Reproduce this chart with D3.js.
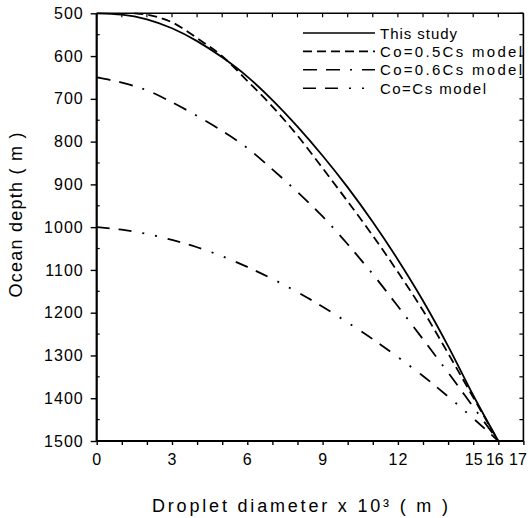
<!DOCTYPE html>
<html>
<head>
<meta charset="utf-8">
<script src="https://cdn.jsdelivr.net/npm/d3@7"></script>
<style>
  body { margin: 0; background: #fff; }
  svg { display: block; font-family: "Liberation Sans", Arial, sans-serif; }
</style>
</head>
<body>
<div id="chart"></div>
<script>
// droplet diameter (x 10^3 m) vs ocean depth (m)
const thisStudy = [
  [0, 500], [1, 503], [2, 514], [3, 535], [4, 565], [5, 603], [6, 648], [7, 703], [8, 765],
  [9, 833], [10, 907], [11, 988], [12, 1076], [13, 1172], [14, 1278], [15, 1393], [16, 1500]
];
const model05 = [
  [1.5, 500], [2, 503], [2.5, 510], [3, 521], [3.5, 538], [4, 558], [5, 600], [6, 658], [7, 718],
  [8, 786], [9, 862], [10, 940], [11, 1020], [12, 1105], [13, 1195], [14, 1295], [15, 1398], [16, 1500]
];
const model06 = [
  [0, 650], [1, 662], [2, 680], [3, 708], [4, 740], [5, 775], [6, 815], [7, 865], [8, 918],
  [9, 975], [10, 1040], [11, 1110], [12, 1185], [13, 1262], [14, 1340], [15, 1420], [16, 1500]
];
const modelCs = [
  [0, 1000], [1, 1006], [2, 1016], [3, 1030], [4, 1047], [5, 1068], [6, 1093], [7, 1121], [8, 1152],
  [9, 1186], [10, 1223], [11, 1262], [12, 1304], [13, 1348], [14, 1396], [15, 1447], [16, 1500]
];

const seriesNames = ["This study", "Co=0.5Cs model", "Co=0.6Cs model", "Co=Cs model"];
const xTickLabels = [0, 3, 6, 9, 12, 15, 16, 17];
const yTickLabels = [500, 600, 700, 800, 900, 1000, 1100, 1200, 1300, 1400, 1500];

const width = 531, height = 518;
const margin = { top: 13.3, right: 7.6, bottom: 77, left: 96.7 };

const svg = d3.select("#chart").append("svg")
  .attr("width", width)
  .attr("height", height);

const x = d3.scaleLinear().domain([0, 17]).range([margin.left, width - margin.right]);
const y = d3.scaleLinear().domain([500, 1500]).range([margin.top, height - margin.bottom]);

const series = [
  { name: seriesNames[0], data: thisStudy, dash: null, legendW: 77 },
  { name: seriesNames[1], data: model05, dash: "9,5", legendW: 142 },
  { name: seriesNames[2], data: model06, dash: "14,9,14,10,2,10", legendW: 142 },
  { name: seriesNames[3], data: modelCs, dash: "13,9,13,11,2,11,2,11", legendW: 106 }
];

// frame
const x0 = x(0), x1 = x(17), y0 = y(500), y1 = y(1500);
svg.append("line").attr("x1", x0).attr("x2", x1).attr("y1", y0).attr("y2", y0)
  .attr("stroke", "#000").attr("stroke-width", 1.6);
svg.append("line").attr("x1", x1).attr("x2", x1).attr("y1", y0).attr("y2", y1)
  .attr("stroke", "#000").attr("stroke-width", 1.6);

// minor / inner ticks
const unitTicks = d3.range(0, 18);
const halfTicks = d3.range(500, 1501, 50);

svg.append("g").selectAll("line").data(unitTicks).enter().append("line")
  .attr("x1", (d) => x(d)).attr("x2", (d) => x(d))
  .attr("y1", y0).attr("y2", y0 + 4)
  .attr("stroke", "#000").attr("stroke-width", 1.2);

svg.append("g").selectAll("line").data(halfTicks).enter().append("line")
  .attr("x1", x1).attr("x2", x1 - 4)
  .attr("y1", (d) => y(d)).attr("y2", (d) => y(d))
  .attr("stroke", "#000").attr("stroke-width", 1.2);

svg.append("g").selectAll("line").data(halfTicks.filter((d) => d % 100 !== 0)).enter().append("line")
  .attr("x1", x0).attr("x2", x0 + 3)
  .attr("y1", (d) => y(d)).attr("y2", (d) => y(d))
  .attr("stroke", "#000").attr("stroke-width", 1.2);

// bottom axis
const xAxis = d3.axisBottom(x).tickValues(unitTicks).tickSize(4).tickPadding(9)
  .tickFormat((d) => xTickLabels.includes(d) ? d : "");
const gx = svg.append("g").attr("transform", `translate(0,${y1})`).call(xAxis);

// left axis
const yAxis = d3.axisLeft(y).tickValues(yTickLabels).tickSize(6).tickPadding(7)
  .tickFormat(d3.format("d"));
const gy = svg.append("g").attr("transform", `translate(${x0},0)`).call(yAxis);

[gx, gy].forEach((g) => {
  g.select(".domain").attr("stroke", "#000").attr("stroke-width", 2.2);
  g.selectAll(".tick line").attr("stroke", "#000").attr("stroke-width", 1.4);
  g.selectAll(".tick text")
    .attr("fill", "#000")
    .style("font-size", "16px")
    .style("letter-spacing", "1px")
    .style("font-family", "'Liberation Sans', Arial, sans-serif");
});
gx.select(".domain").attr("d", `M${x0},0H${x1}`);
gy.select(".domain").attr("d", `M0,${y0}V${y1}`);

// the last three labels are squeezed together in the original
const labelShift = { 15: 0, 16: -4, 17: -6 };
gx.selectAll(".tick text")
  .attr("dx", (d) => labelShift[d] || 0)
  .style("letter-spacing", (d) => d >= 15 ? "0px" : "1px");

// curves
const line = d3.line()
  .x((d) => x(d[0]))
  .y((d) => y(d[1]))
  .curve(d3.curveMonotoneX);

svg.append("g").selectAll("path").data(series).enter().append("path")
  .attr("d", (d) => line(d.data))
  .attr("fill", "none")
  .attr("stroke", "#000")
  .attr("stroke-width", 1.8)
  .attr("stroke-dasharray", (d) => d.dash);

// legend
const legend = svg.append("g").selectAll("g").data(series).enter().append("g")
  .attr("transform", (d, i) => `translate(303,${33 + i * 18.4})`);

legend.append("line")
  .attr("x1", 0).attr("x2", 72)
  .attr("stroke", "#000")
  .attr("stroke-width", 1.6)
  .attr("stroke-dasharray", (d) => d.dash);

legend.append("text")
  .attr("x", 77)
  .attr("y", 5.5)
  .attr("textLength", (d) => d.legendW)
  .attr("lengthAdjust", "spacing")
  .style("font-size", "15px")
  .text((d) => d.name);

// axis titles
svg.append("text")
  .attr("x", 300)
  .attr("y", 512)
  .attr("text-anchor", "middle")
  .attr("textLength", 296)
  .attr("lengthAdjust", "spacing")
  .style("font-size", "18px")
  .text("Droplet  diameter x 10³ ( m )");

svg.append("text")
  .attr("transform", "translate(22,215) rotate(-90)")
  .attr("text-anchor", "middle")
  .attr("textLength", 165)
  .attr("lengthAdjust", "spacing")
  .style("font-size", "18px")
  .text("Ocean depth ( m )");
</script>
</body>
</html>
